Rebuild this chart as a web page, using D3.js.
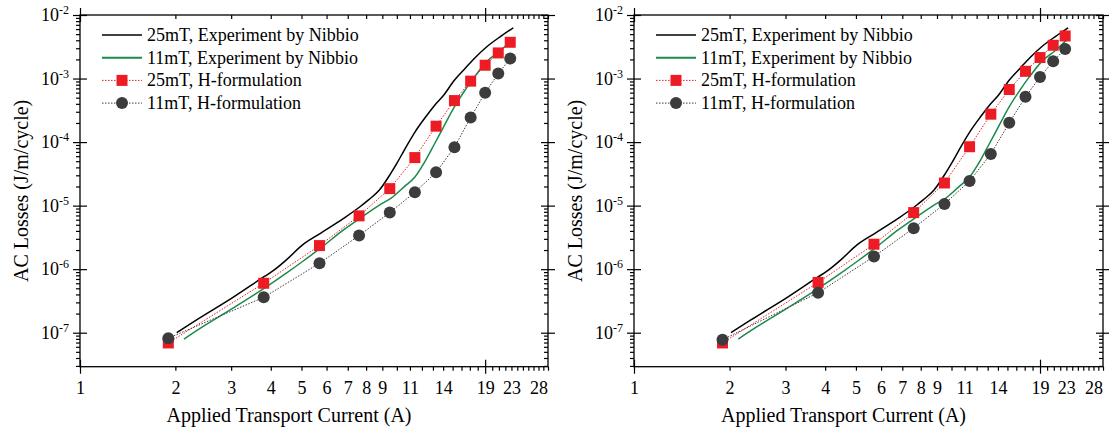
<!DOCTYPE html>
<html><head><meta charset="utf-8">
<script src="https://cdn.jsdelivr.net/npm/d3@7"></script>
<style>
body{margin:0;background:#fff}
svg{display:block}
text{font-family:"Liberation Serif","Times New Roman",serif;fill:#000}
</style>
</head><body>
<svg id="chart" width="1109" height="433"></svg>
<script>
// ---------- data ----------
const xTickLabels = [1, 2, 3, 4, 5, 6, 7, 8, 9, 11, 14, 19, 23, 28];
const xMajorTicks = [1, 19];
const xMinorTicks = [2,3,4,5,6,7,8,9,10,11,12,13,14,15,16,17,18,20,21,22,23,24,25,26,27,28,29,30];
const yDecades = [1e-7, 1e-6, 1e-5, 1e-4, 1e-3, 1e-2];
const yExponents = [-7, -6, -5, -4, -3, -2];

const seriesNames = ["25mT, Experiment by Nibbio", "11mT, Experiment by Nibbio", "25mT, H-formulation", "11mT, H-formulation"];

// H-formulation simulated points (A, J/m/cycle)
const current = [1.9, 3.8, 5.7, 7.6, 9.5, 11.4, 13.3, 15.2, 17.1, 19.0, 20.9, 22.8];
const left25H  = [6.9e-8, 6.0e-7, 2.35e-6, 6.9e-6, 1.85e-5, 5.7e-5, 1.78e-4, 4.5e-4, 9.1e-4, 1.62e-3, 2.53e-3, 3.72e-3];
const left11H  = [8.2e-8, 3.6e-7, 1.24e-6, 3.38e-6, 7.8e-6, 1.62e-5, 3.34e-5, 8.3e-5, 2.44e-4, 5.96e-4, 1.2e-3, 2.06e-3];
const right25H = [6.9e-8, 6.18e-7, 2.47e-6, 7.76e-6, 2.27e-5, 8.45e-5, 2.75e-4, 6.72e-4, 1.30e-3, 2.14e-3, 3.34e-3, 4.68e-3];
const right11H = [7.76e-8, 4.25e-7, 1.58e-6, 4.41e-6, 1.06e-5, 2.44e-5, 6.48e-5, 2.01e-4, 5.15e-4, 1.06e-3, 1.87e-3, 2.92e-3];

// Experiment by Nibbio
const exp25I    = [2.02, 2.34, 3.04, 3.82, 4.04, 4.48, 5.04, 5.74, 6.79, 7.65, 8.14, 8.81, 9.57, 10.0, 10.56, 11.42, 12.34, 13.17, 14.05, 15.19, 16.42, 17.75, 19.19, 21.28, 23.3];
const exp25Loss = [1.0e-7, 1.6e-7, 3.59e-7, 7.67e-7, 9.2e-7, 1.40e-6, 2.41e-6, 3.67e-6, 6.3e-6, 9.6e-6, 1.23e-5, 1.76e-5, 3.22e-5, 4.62e-5, 7.5e-5, 1.45e-4, 2.5e-4, 3.81e-4, 5.47e-4, 9.4e-4, 1.44e-3, 2.19e-3, 3.14e-3, 4.62e-3, 6.3e-3];
const exp11I    = [2.13, 2.40, 3.04, 3.82, 4.48, 5.04, 5.74, 6.79, 7.65, 8.81, 9.57, 10.56, 11.42, 12.34, 13.17, 14.05, 15.19, 16.42, 17.75, 19.19, 21.28, 23.3];
const exp11Loss = [7.96e-8, 1.18e-7, 2.44e-7, 5.03e-7, 8.65e-7, 1.32e-6, 2.14e-6, 4.15e-6, 6.3e-6, 1.02e-5, 1.30e-5, 1.99e-5, 2.85e-5, 5.2e-5, 9.5e-5, 1.74e-4, 3.59e-4, 6.56e-4, 1.13e-3, 1.83e-3, 2.79e-3, 4.25e-3];

// ---------- style / layout ----------
const C_BLACK = "#000000", C_GREEN = "#1b8a4c", C_RED = "#ed1c24", C_GRAY = "#3c3c3c";
const panels = [
  {x0: 80, x1: 548, h25: left25H, h11: left11H},
  {x0: 634, x1: 1103, h25: right25H, h11: right11H}
];
const yTop = 15, yBot = 366.7;
const svg = d3.select("#chart");

const yMinor = [];
for (let e = -8; e <= -3; e++) for (let k = 2; k <= 9; k++) {
  const v = k * Math.pow(10, e);
  if (v > Math.pow(10, -7.535) && v < 1e-2) yMinor.push(v);
}

panels.forEach(p => {
  const x = d3.scaleLog().domain([1, 30]).range([p.x0, p.x1]);
  const y = d3.scaleLog().domain([Math.pow(10, -7.535), 1e-2]).range([yBot, yTop]);
  const g = svg.append("g");

  g.append("rect").attr("x", p.x0).attr("y", yTop).attr("width", p.x1 - p.x0).attr("height", yBot - yTop)
    .attr("fill", "none").attr("stroke", "#000").attr("stroke-width", 1.3);

  const fixAxis = sel => { sel.select(".domain").remove(); sel.selectAll(".tick line").attr("stroke", "#000").attr("stroke-width", 1.2); };

  g.append("g").attr("transform", `translate(0,${yBot})`)
    .call(d3.axisBottom(x).tickValues(xMinorTicks).tickSize(4).tickFormat(""))
    .call(fixAxis);
  g.append("g").attr("transform", `translate(0,${yBot})`)
    .call(d3.axisBottom(x).tickValues(xMajorTicks).tickSize(7).tickFormat(""))
    .call(fixAxis).call(s => s.selectAll(".tick line").attr("y1", -7));
  g.append("g").attr("transform", `translate(0,${yBot})`)
    .call(d3.axisBottom(x).tickValues(xTickLabels).tickSize(0).tickPadding(15).tickFormat(d3.format("d")))
    .call(fixAxis)
    .call(s => s.selectAll(".tick text").attr("font-size", 18).attr("font-family", "Liberation Serif").attr("fill", "#000"));
  g.append("g").attr("transform", `translate(0,${yTop})`)
    .call(d3.axisTop(x).tickValues(xMinorTicks).tickSize(-4).tickFormat("")).call(fixAxis);
  g.append("g").attr("transform", `translate(0,${yTop})`)
    .call(d3.axisTop(x).tickValues(xMajorTicks).tickSize(7).tickFormat(""))
    .call(fixAxis).call(s => s.selectAll(".tick line").attr("y1", 7));

  g.append("g").attr("transform", `translate(${p.x0},0)`)
    .call(d3.axisLeft(y).tickValues(yMinor).tickSize(4).tickFormat("")).call(fixAxis);
  g.append("g").attr("transform", `translate(${p.x0},0)`)
    .call(d3.axisLeft(y).tickValues(yDecades).tickSize(7).tickPadding(6).tickFormat(""))
    .call(fixAxis).call(s => s.selectAll(".tick line").attr("x1", 7))
    .call(s => {
      s.selectAll(".tick text").each(function(d, i) {
        const t = d3.select(this).attr("font-size", 18).attr("fill", "#000").attr("dy", "0.32em").attr("x", -11);
        t.append("tspan").text("10");
        t.append("tspan").attr("font-size", 12).attr("dy", "-0.6em").text(yExponents[i]);
      });
    });
  g.append("g").attr("transform", `translate(${p.x1},0)`)
    .call(d3.axisRight(y).tickValues(yMinor).tickSize(-4).tickFormat("")).call(fixAxis);
  g.append("g").attr("transform", `translate(${p.x1},0)`)
    .call(d3.axisRight(y).tickValues(yDecades).tickSize(7).tickFormat(""))
    .call(fixAxis).call(s => s.selectAll(".tick line").attr("x1", -7));

  g.append("text").attr("x", (p.x0 + p.x1) / 2 - 25).attr("y", 422).attr("text-anchor", "middle")
    .attr("font-size", 20).text("Applied Transport Current (A)");
  g.append("text").attr("transform", `translate(${p.x0 - 52},${(yTop + yBot) / 2})`+" rotate(-90)")
    .attr("text-anchor", "middle").attr("font-size", 20).text("AC Losses (J/m/cycle)");

  const line = d3.line().x(d => x(d[0])).y(d => y(d[1]));
  const smooth = d3.line().x(d => x(d[0])).y(d => y(d[1])).curve(d3.curveMonotoneX);

  g.append("path").datum(d3.zip(exp25I, exp25Loss)).attr("d", smooth)
    .attr("fill", "none").attr("stroke", C_BLACK).attr("stroke-width", 1.5);
  g.append("path").datum(d3.zip(exp11I, exp11Loss)).attr("d", smooth)
    .attr("fill", "none").attr("stroke", C_GREEN).attr("stroke-width", 1.5);

  g.append("path").datum(d3.zip(current, p.h25)).attr("d", line)
    .attr("fill", "none").attr("stroke", C_RED).attr("stroke-width", 1).attr("stroke-dasharray", "1.5,1.5");
  g.append("path").datum(d3.zip(current, p.h11)).attr("d", line)
    .attr("fill", "none").attr("stroke", C_GRAY).attr("stroke-width", 1).attr("stroke-dasharray", "1.5,1.5");

  const sq = 11, cr = 6;
  g.selectAll(".sq").data(d3.zip(current, p.h25)).join("rect")
    .attr("x", d => x(d[0]) - sq / 2).attr("y", d => y(d[1]) - sq / 2)
    .attr("width", sq).attr("height", sq).attr("fill", C_RED);
  g.selectAll(".ci").data(d3.zip(current, p.h11)).join("circle")
    .attr("cx", d => x(d[0])).attr("cy", d => y(d[1])).attr("r", cr).attr("fill", C_GRAY);

  const lx0 = p.x0 + 22, lx1 = p.x0 + 62, tx = p.x0 + 67;
  const rows = [35, 57.7, 80.4, 103.1];
  const styles = [
    {stroke: C_BLACK, w: 1.5, dash: null, m: null},
    {stroke: C_GREEN, w: 2, dash: null, m: null},
    {stroke: C_RED, w: 1, dash: "1.5,1.5", m: "sq"},
    {stroke: C_GRAY, w: 1, dash: "1.5,1.5", m: "ci"}
  ];
  seriesNames.forEach((name, i) => {
    const st = styles[i], ry = rows[i];
    g.append("line").attr("x1", lx0).attr("x2", lx1).attr("y1", ry).attr("y2", ry)
      .attr("stroke", st.stroke).attr("stroke-width", st.w).attr("stroke-dasharray", st.dash);
    const mx = (lx0 + lx1) / 2;
    if (st.m === "sq") g.append("rect").attr("x", mx - sq / 2).attr("y", ry - sq / 2).attr("width", sq).attr("height", sq).attr("fill", C_RED);
    if (st.m === "ci") g.append("circle").attr("cx", mx).attr("cy", ry).attr("r", cr).attr("fill", C_GRAY);
    g.append("text").attr("x", tx).attr("y", ry + 6).attr("font-size", 18).text(name);
  });
});
</script>
</body></html>
